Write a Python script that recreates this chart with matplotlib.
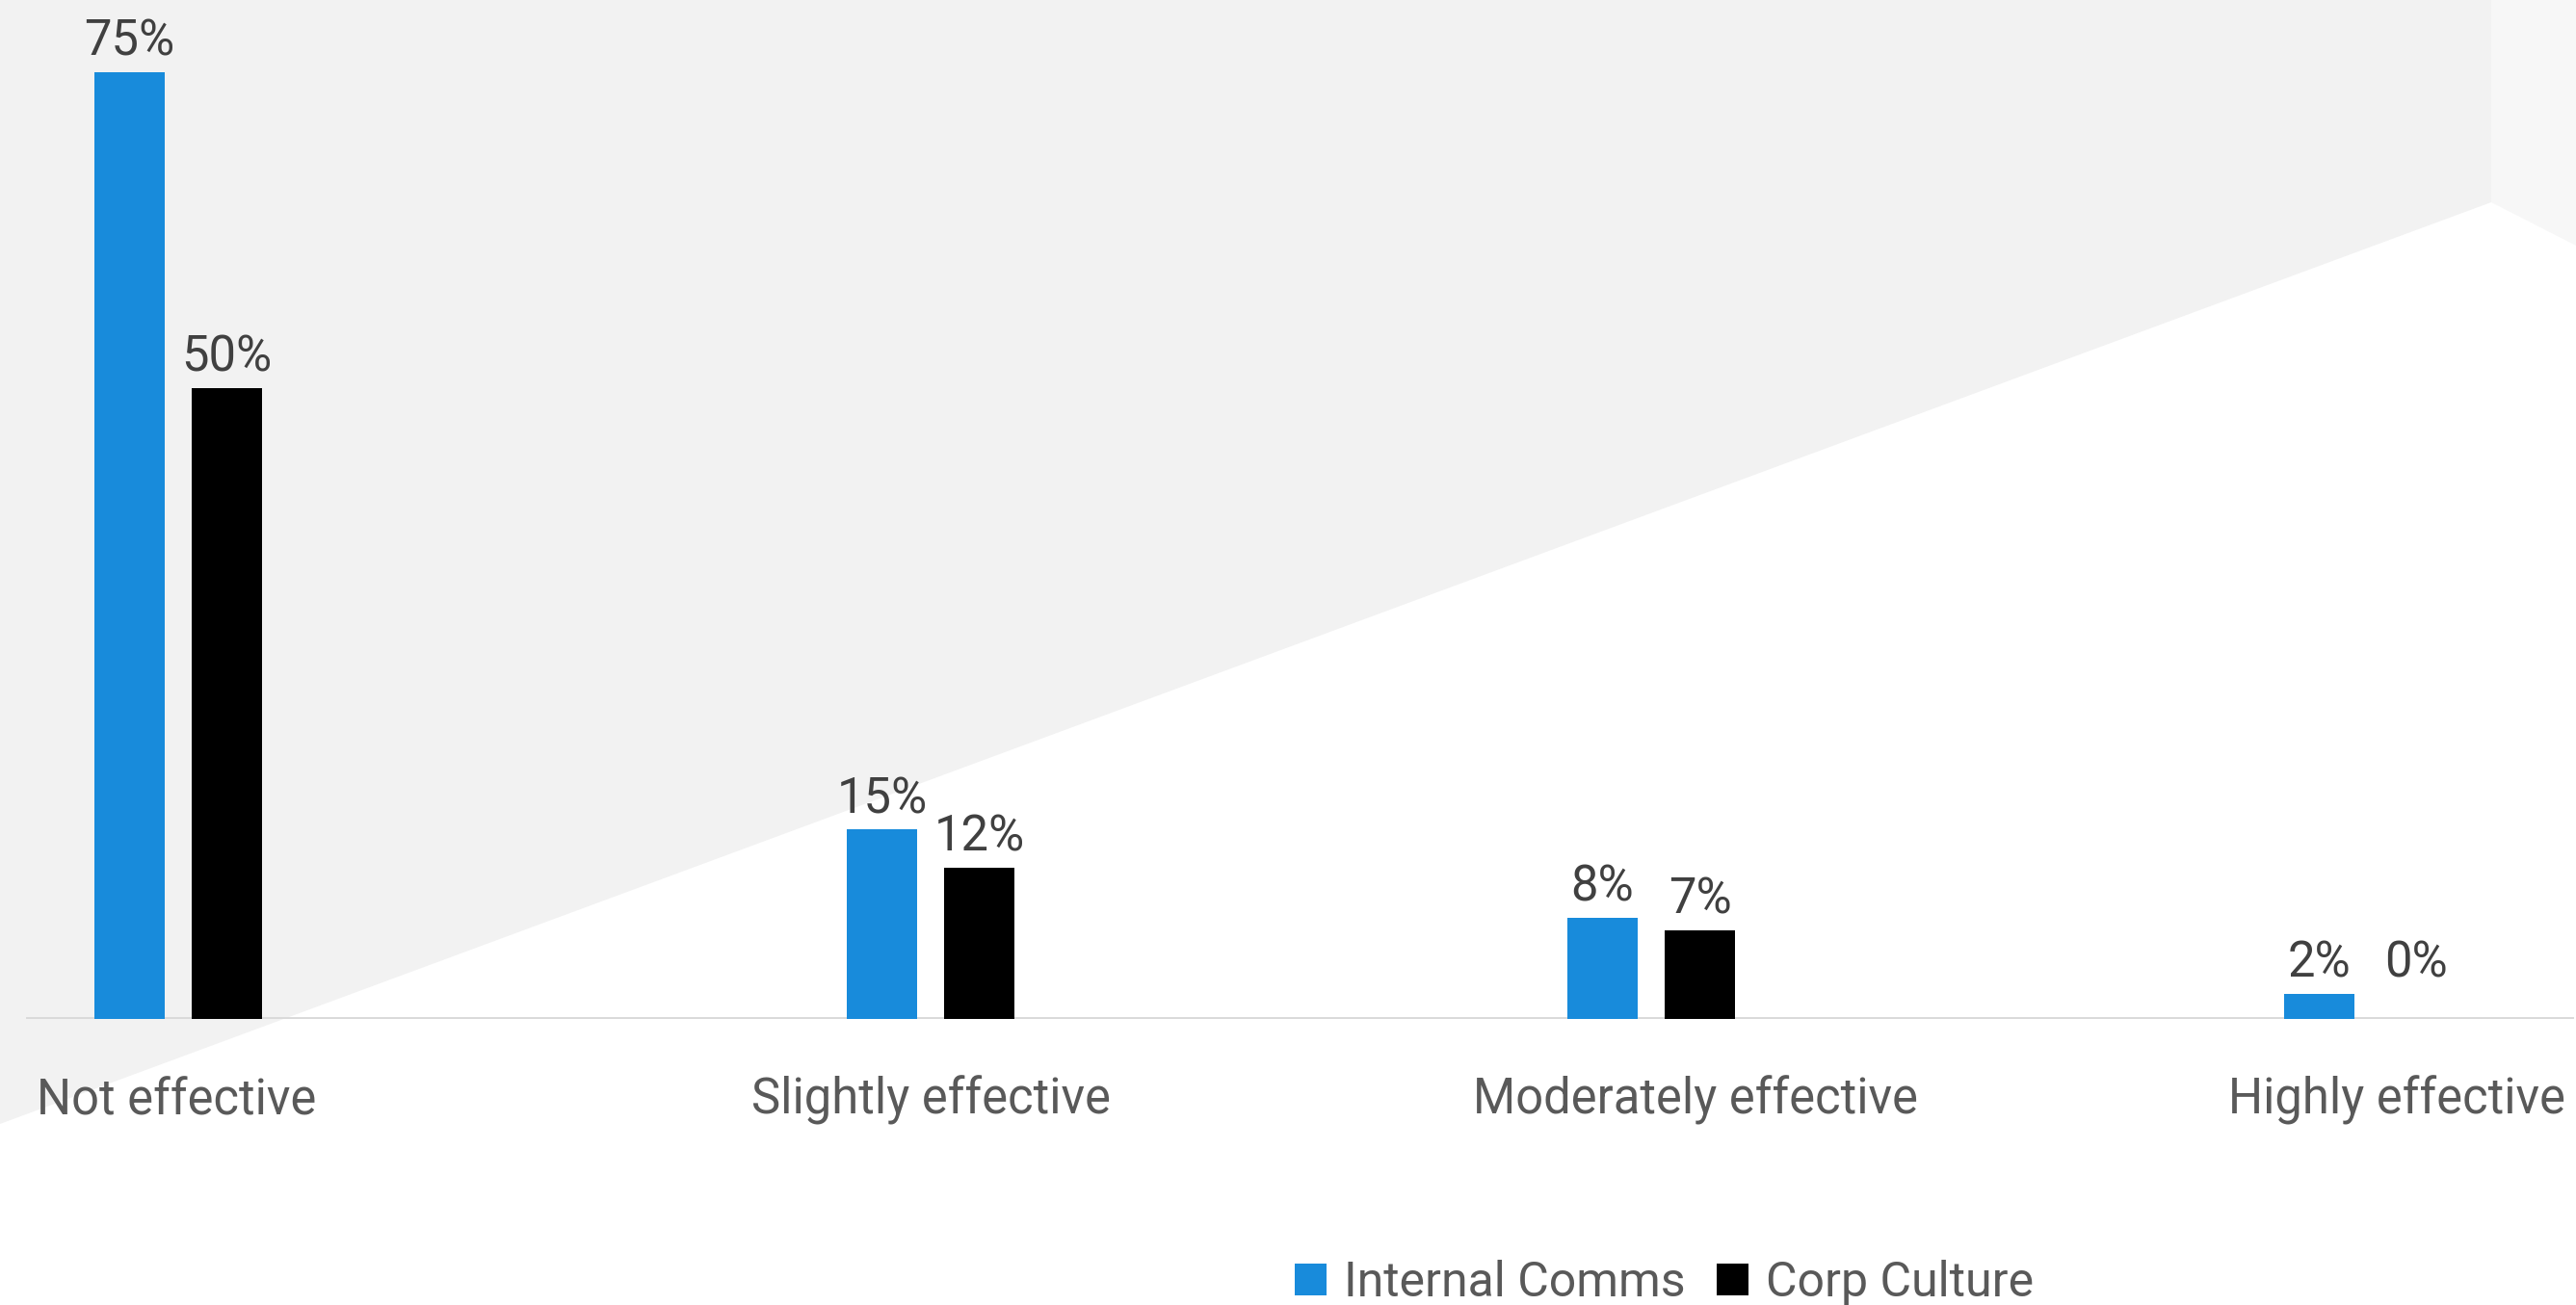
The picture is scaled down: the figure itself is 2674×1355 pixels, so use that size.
import matplotlib.pyplot as plt
from matplotlib.patches import Polygon, Patch

plt.rcParams['font.family'] = ['Roboto', 'DejaVu Sans']

categories = ['Not effective', 'Slightly effective', 'Moderately effective', 'Highly effective']
series_names = ['Internal Comms', 'Corp Culture']
internal_comms = [75, 15, 8, 2]
corp_culture = [50, 12, 7, 0]

W, H = 2674, 1355
blue = '#188bdb'
black = '#000000'

# layout in pixels
group_x = [185, 966, 1714, 2458]
label_x = [183, 966, 1760, 2488]
bar_w = 73
bar_step = 101
base_px = 1058
top_px = 75

fig = plt.figure(figsize=(W / 100, H / 100), dpi=100)

# background shapes
bg = fig.add_axes([0, 0, 1, 1])
bg.set_xlim(0, W)
bg.set_ylim(H, 0)
bg.axis('off')
bg.add_patch(Polygon([(0, 0), (2586, 0), (2586, 210), (0, 1167)],
                     closed=True, facecolor='#f2f2f2', edgecolor='none'))
bg.add_patch(Polygon([(2586, 0), (W, 0), (W, 255), (2586, 210)],
                     closed=True, facecolor='#f7f7f7', edgecolor='none'))

# bar axes
ax = fig.add_axes([0, (H - base_px) / H, 1, (base_px - top_px) / H])
ax.patch.set_alpha(0)
ax.set_xlim(0, W)
ax.set_ylim(0, max(internal_comms))
for s in ax.spines.values():
    s.set_visible(False)
ax.set_xticks([])
ax.set_yticks([])

ax.axhline(0, xmin=29 / W, xmax=2670 / W, color='#d9d9d9', lw=2.8, zorder=1)

xs1 = [x - bar_step / 2 for x in group_x]
xs2 = [x + bar_step / 2 for x in group_x]
b1 = ax.bar(xs1, internal_comms, width=bar_w, color=blue, zorder=2)
b2 = ax.bar(xs2, corp_culture, width=bar_w, color=black, zorder=2)

for xs, vals in [(xs1, internal_comms), (xs2, corp_culture)]:
    for x, v in zip(xs, vals):
        ax.annotate(f'{v}%', (x, max(v, 2)), xytext=(0, 12.5), textcoords='offset points',
                    ha='center', va='baseline', fontsize=36.5, color='#404040',
                    annotation_clip=False)

for lx, cat in zip(label_x, categories):
    fig.text(lx / W, 1 - 1157 / H, cat, ha='center', va='baseline',
             fontsize=36.5, color='#595959')

handles = [Patch(facecolor=blue), Patch(facecolor=black)]
fig.legend(handles, series_names, loc='center left',
           bbox_to_anchor=(1344 / W, 1 - 1332 / H), ncol=2, frameon=False,
           fontsize=36, labelcolor='#595959', borderpad=0, borderaxespad=0,
           handlelength=0.66, handleheight=0.66, handletextpad=0.36,
           columnspacing=0.64)

fig.savefig('out.png', dpi=100)
